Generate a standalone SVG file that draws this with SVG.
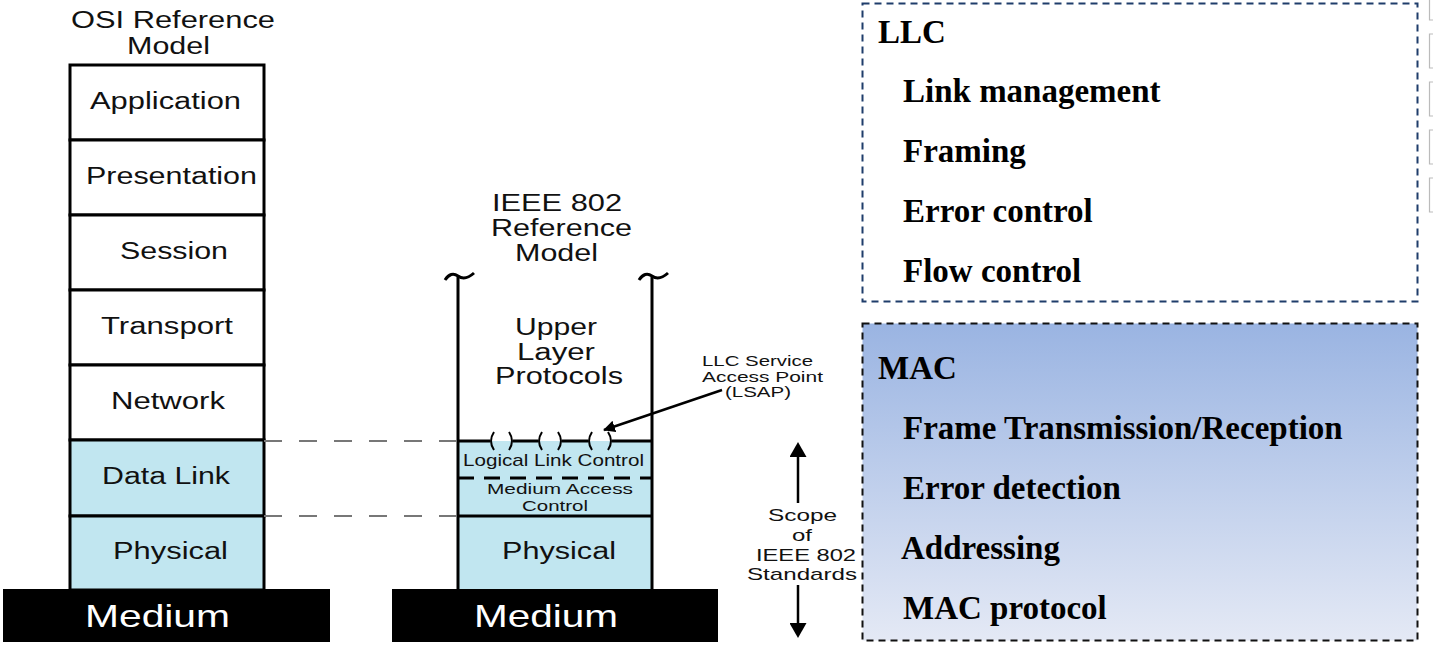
<svg xmlns="http://www.w3.org/2000/svg" width="1433" height="653" viewBox="0 0 1433 653">
<defs>
<style>
.s{font-family:"Liberation Sans",Arial,sans-serif;fill:#111;text-anchor:middle}
.L{font-size:23px}
.M{font-size:17px}
.m{font-size:15px}
.S{font-size:15px}
.W{font-size:32px;fill:#fff}
.b{font-family:"Liberation Serif","Times New Roman",serif;font-weight:bold;fill:#000;font-size:33px}
.box{stroke:#000;stroke-width:3}
.blue{fill:#c1e6f0}
.wh{fill:#fff}
</style>
<linearGradient id="mg" x1="0" y1="0" x2="0" y2="1">
<stop offset="0" stop-color="#9ab4e2"/>
<stop offset="1" stop-color="#e4e9f5"/>
</linearGradient>
<marker id="ah" markerWidth="12" markerHeight="12" refX="11" refY="6" orient="auto" markerUnits="userSpaceOnUse" viewBox="0 0 12 12">
<path d="M0,0 L12,6 L0,12 z" fill="#000"/>
</marker>
<marker id="ah2" markerWidth="15" markerHeight="17" refX="1" refY="8.5" orient="auto" markerUnits="userSpaceOnUse" viewBox="0 0 15 17">
<path d="M0,0 L15,8.5 L0,17 z" fill="#000"/>
</marker>
</defs>
<rect width="1433" height="653" fill="#fff"/>

<g id="osi">
<text class="s L" x="173" y="28" textLength="204" lengthAdjust="spacingAndGlyphs">OSI Reference</text>
<text class="s L" x="168.5" y="54" textLength="83" lengthAdjust="spacingAndGlyphs">Model</text>
<rect class="box wh" x="70" y="65" width="194" height="75"/>
<rect class="box wh" x="70" y="140" width="194" height="75"/>
<rect class="box wh" x="70" y="215" width="194" height="75"/>
<rect class="box wh" x="70" y="290" width="194" height="75"/>
<rect class="box wh" x="70" y="365" width="194" height="75"/>
<rect class="box blue" x="70" y="440" width="194" height="76"/>
<rect class="box blue" x="70" y="516" width="194" height="74"/>
<text class="s L" x="165.5" y="109" textLength="151" lengthAdjust="spacingAndGlyphs">Application</text>
<text class="s L" x="171.5" y="184" textLength="171" lengthAdjust="spacingAndGlyphs">Presentation</text>
<text class="s L" x="174" y="259" textLength="108" lengthAdjust="spacingAndGlyphs">Session</text>
<text class="s L" x="167" y="334" textLength="132" lengthAdjust="spacingAndGlyphs">Transport</text>
<text class="s L" x="168" y="409" textLength="114" lengthAdjust="spacingAndGlyphs">Network</text>
<text class="s L" x="166" y="484" textLength="128" lengthAdjust="spacingAndGlyphs">Data Link</text>
<text class="s L" x="170.5" y="559" textLength="115" lengthAdjust="spacingAndGlyphs">Physical</text>
<rect x="3" y="589" width="327" height="53" fill="#000"/>
<text class="s W" x="157.5" y="627" textLength="145" lengthAdjust="spacingAndGlyphs">Medium</text>
</g>

<g id="ieee">
<text class="s L" x="557" y="211" textLength="130" lengthAdjust="spacingAndGlyphs">IEEE 802</text>
<text class="s L" x="561.5" y="236" textLength="141" lengthAdjust="spacingAndGlyphs">Reference</text>
<text class="s L" x="556.5" y="261" textLength="83" lengthAdjust="spacingAndGlyphs">Model</text>
<rect class="blue" x="458" y="441" width="194" height="149"/>
<path d="M458,277 V590 M652,277 V590" stroke="#000" stroke-width="3" fill="none"/>
<path d="M445,280 q6,-9 13,-4 q7,5 16,-3 M639,280 q6,-9 13,-4 q7,5 16,-3" stroke="#000" stroke-width="3" fill="none"/>
<text class="s L" x="556" y="335" textLength="82" lengthAdjust="spacingAndGlyphs">Upper</text>
<text class="s L" x="556" y="360" textLength="78" lengthAdjust="spacingAndGlyphs">Layer</text>
<text class="s L" x="559" y="384" textLength="128" lengthAdjust="spacingAndGlyphs">Protocols</text>
<path d="M458,441 H490 M513,441 H538 M562,441 H588 M612,441 H652" stroke="#000" stroke-width="3" fill="none"/>
<path d="M494,432 q-6,9 0,18 M509,432 q6,9 0,18 M542,432 q-6,9 0,18 M558,432 q6,9 0,18 M592,432 q-6,9 0,18 M608,432 q6,9 0,18" stroke="#000" stroke-width="2" fill="none"/>
<path d="M458,478 H652" stroke="#000" stroke-width="3" stroke-dasharray="16 10" fill="none"/>
<path d="M458,516 H652" stroke="#000" stroke-width="3" fill="none"/>
<text class="s M" x="553.5" y="466" textLength="181" lengthAdjust="spacingAndGlyphs">Logical Link Control</text>
<text class="s m" x="560" y="494" textLength="146" lengthAdjust="spacingAndGlyphs">Medium Access</text>
<text class="s m" x="555" y="511" textLength="66" lengthAdjust="spacingAndGlyphs">Control</text>
<text class="s L" x="559" y="559" textLength="114" lengthAdjust="spacingAndGlyphs">Physical</text>
<rect x="392" y="589" width="326" height="53" fill="#000"/>
<text class="s W" x="546" y="627" textLength="144" lengthAdjust="spacingAndGlyphs">Medium</text>
</g>

<g id="lsap">
<text class="s S" x="757.5" y="366" textLength="111" lengthAdjust="spacingAndGlyphs">LLC Service</text>
<text class="s S" x="762.5" y="382" textLength="121" lengthAdjust="spacingAndGlyphs">Access Point</text>
<text class="s S" x="758" y="397" textLength="66" lengthAdjust="spacingAndGlyphs">(LSAP)</text>
</g>

<g id="scope">
<text class="s M" x="802.5" y="521" textLength="69" lengthAdjust="spacingAndGlyphs">Scope</text>
<text class="s M" x="802" y="541" textLength="20" lengthAdjust="spacingAndGlyphs">of</text>
<text class="s M" x="806" y="561" textLength="100" lengthAdjust="spacingAndGlyphs">IEEE 802</text>
<text class="s M" x="802" y="580" textLength="110" lengthAdjust="spacingAndGlyphs">Standards</text>
</g>

<g id="connectors">
<path d="M264,441 H458 M264,516 H458" stroke="#777" stroke-width="2" stroke-dasharray="18 17" fill="none"/>
<path d="M722,390 L604,430" stroke="#000" stroke-width="2.5" fill="none" marker-end="url(#ah)"/>
<path d="M798,503 V456" stroke="#000" stroke-width="2.5" fill="none" marker-end="url(#ah2)"/>
<path d="M798,585 V624" stroke="#000" stroke-width="2.5" fill="none" marker-end="url(#ah2)"/>
</g>

<g id="llc">
<rect x="862.5" y="3.5" width="555" height="298" fill="#fff" stroke="#1f3d6b" stroke-width="2" stroke-dasharray="7 5"/>
<text class="b" x="878" y="43">LLC</text>
<text class="b" x="903" y="102">Link management</text>
<text class="b" x="903" y="162">Framing</text>
<text class="b" x="903" y="222">Error control</text>
<text class="b" x="903" y="282">Flow control</text>
</g>

<g id="mac">
<rect x="862.5" y="323.5" width="555" height="317" fill="url(#mg)" stroke="#111" stroke-width="2" stroke-dasharray="7 5"/>
<text class="b" x="878" y="379">MAC</text>
<text class="b" x="903" y="439">Frame Transmission/Reception</text>
<text class="b" x="903" y="499">Error detection</text>
<text class="b" x="901" y="559">Addressing</text>
<text class="b" x="903" y="619">MAC protocol</text>
</g>

<g id="edge" stroke="#bbb" stroke-width="1.2" fill="none">
<path d="M1433,20 H1429.5 V0"/>
<path d="M1433,34 H1429.5 V68 H1433"/>
<path d="M1433,82 H1429.5 V116 H1433"/>
<path d="M1433,130 H1429.5 V164 H1433"/>
<path d="M1433,178 H1429.5 V212 H1433"/>
</g>
</svg>
